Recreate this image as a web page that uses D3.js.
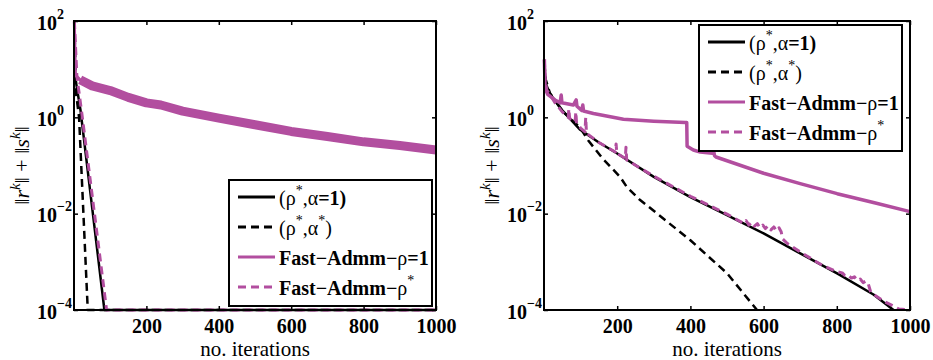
<!DOCTYPE html>
<html>
<head>
<meta charset="utf-8">
<script src="https://cdn.jsdelivr.net/npm/d3@7"></script>
</head>
<body style="margin:0">
<svg id="chart" width="933" height="360"></svg>
<script>
// tick values
let xTicks = [200, 400, 600, 800, 1000];
let yTicks = [1e2, 1e0, 1e-2, 1e-4];
let yExps = ["2", "0", "\u22122", "\u22124"];

// left panel series: [iteration, value]
let leftRhoAlpha1 = [[1, 50], [3, 7], [18, 1.4], [84, 1e-4], [1000, 1e-4]];
let leftRhoAlphaStar = [[1, 90], [6, 3], [14, 1.0], [38, 1e-4], [1000, 1e-4]];
let leftFastRho1 = [[1, 95], [4, 7.5], [17, 6], [50, 4.5], [100, 3.6], [150, 2.6], [200, 2.0],
  [240, 1.8], [300, 1.35], [400, 0.96], [500, 0.7], [600, 0.51], [700, 0.4], [800, 0.31],
  [900, 0.26], [1000, 0.21]];
let leftFastRhoStar = [[1, 100], [8, 7], [22, 1.15], [90, 1e-4], [1000, 1e-4]];

// right panel series
let rightRhoAlpha1 = [[1, 11], [5, 5], [16, 3.1], [50, 1.4], [99, 0.55], [150, 0.3], [199, 0.18],
  [300, 0.058], [400, 0.022], [500, 0.0093], [600, 0.0039], [700, 0.0015], [802, 5.7e-4],
  [900, 2.1e-4], [955, 1e-4]];
let rightRhoAlphaStar = [[1, 13], [5, 6], [16, 3.2], [50, 1.35], [98, 0.62], [121, 0.33],
  [160, 0.14], [208, 0.058], [226, 0.036], [260, 0.02], [308, 0.0102], [400, 0.0028],
  [500, 5.8e-4], [582, 1e-4]];
let rightFastRho1 = [[1, 16], [3, 4], [10, 3.0], [30, 2.3], [44, 2.0], [47, 2.9], [49, 2.0],
  [80, 1.8], [88, 2.3], [90, 1.7], [103, 1.4], [106, 1.8], [108, 1.35], [135, 1.2], [217, 0.91],
  [300, 0.83], [386, 0.78], [390, 0.78], [391, 0.25], [408, 0.21], [427, 0.19], [460, 0.18],
  [463, 0.21], [466, 0.16], [470, 0.15], [600, 0.069], [700, 0.042], [801, 0.026], [900, 0.017],
  [1000, 0.011]];
let rightFastRhoStar = [[1, 16], [3, 6], [8, 3.6], [16, 3.0], [30, 2.0], [50, 1.3], [66, 1.0],
  [68, 1.5], [70, 0.95], [85, 0.8], [87, 1.3], [89, 0.75], [100, 0.6], [112, 0.5], [114, 1.0],
  [116, 0.47], [150, 0.3], [195, 0.19], [197, 0.28], [199, 0.18], [222, 0.14], [224, 0.24],
  [226, 0.13], [300, 0.06], [400, 0.023], [500, 0.0098], [545, 0.0063], [552, 0.0072],
  [560, 0.0058], [568, 0.0066], [575, 0.0055], [583, 0.0062], [590, 0.0051], [598, 0.0058],
  [605, 0.0049], [612, 0.0056], [620, 0.0046], [628, 0.0053], [635, 0.0044], [642, 0.0051],
  [648, 0.0042], [652, 0.003], [665, 0.0024], [700, 0.0016], [760, 8.5e-4], [801, 6.2e-4],
  [815, 5.9e-4], [822, 5.2e-4], [830, 5.4e-4], [840, 4.6e-4], [848, 4.9e-4], [856, 4.1e-4],
  [864, 4.4e-4], [872, 3.7e-4], [880, 4.0e-4], [886, 3.5e-4], [893, 2.3e-4], [930, 1.5e-4],
  [970, 1.05e-4], [1000, 1e-4]];

let legendLabels = ["rho1", "rho2", "fast1", "fast2"];

let magenta = "#b24e9f";

let svg = d3.select("#chart");

// every text gets the serif face through this helper
function serifText(sel, size, weight) {
  return sel.style("font-family", "'Times New Roman'")
    .style("font-size", size + "px")
    .style("font-weight", weight || "normal");
}

function drawPanel(left, right, series, legendPos, id) {
  let top = 21, bottom = 310;
  let x = d3.scaleLinear().domain([0, 1000]).range([left, right]);
  let y = d3.scaleLog().domain([1e-4, 1e2]).range([bottom, top]);

  let g = svg.append("g");

  g.append("clipPath").attr("id", "clip" + id)
    .append("rect")
    .attr("x", left - 2).attr("y", top - 2)
    .attr("width", right - left + 4).attr("height", bottom - top + 4);

  let line = d3.line().x(d => x(d[0])).y(d => y(d[1]));
  let plot = g.append("g").attr("clip-path", "url(#clip" + id + ")");

  series.forEach(s => {
    plot.append("path")
      .attr("d", line(s.data))
      .attr("fill", "none")
      .attr("stroke", s.color)
      .attr("stroke-width", s.width)
      .attr("stroke-dasharray", s.dash ? "8,5" : null)
      .attr("stroke-linejoin", "round");
    if (s.band) {
      plot.append("path")
        .attr("d", line(s.data.slice(s.band)))
        .attr("fill", "none")
        .attr("stroke", s.color)
        .attr("stroke-width", 9)
        .attr("stroke-linejoin", "round");
    }
  });

  // axes, ticks pointing inwards
  let xb = g.append("g")
    .attr("transform", "translate(0," + bottom + ")")
    .call(d3.axisBottom(x).tickValues(xTicks).tickSize(-4).tickPadding(8).tickFormat(d3.format("d")));
  serifText(xb.selectAll("text"), 20, "bold").attr("fill", "#000").attr("dy", 15);

  g.append("g")
    .attr("transform", "translate(0," + top + ")")
    .call(d3.axisTop(x).tickValues(xTicks).tickSize(-4).tickFormat(""));

  let yl = g.append("g")
    .attr("transform", "translate(" + left + ",0)")
    .call(d3.axisLeft(y).tickValues(yTicks).tickSize(-4).tickFormat(""));
  yl.selectAll(".tick text").each(function(d, i) {
    let t = serifText(d3.select(this), 20, "bold")
      .attr("x", -37).attr("dy", null).attr("y", 8)
      .attr("text-anchor", "start")
      .attr("fill", "#000");
    t.append("tspan").text("10");
    t.append("tspan").style("font-size", "14px").attr("dy", -11).text(yExps[i]);
  });

  g.append("g")
    .attr("transform", "translate(" + right + ",0)")
    .call(d3.axisRight(y).tickValues(yTicks).tickSize(-4).tickFormat(""));

  g.selectAll(".domain").remove();
  g.selectAll(".tick line").attr("stroke", "#000").attr("stroke-width", 1.5);

  g.append("rect")
    .attr("x", left).attr("y", top)
    .attr("width", right - left).attr("height", bottom - top)
    .attr("fill", "none").attr("stroke", "#000").attr("stroke-width", 2);

  // axis titles
  serifText(g.append("text"), 21)
    .attr("x", (left + right) / 2).attr("y", 356)
    .attr("text-anchor", "middle")
    .text("no.  iterations");

  let yt = serifText(g.append("text"), 22)
    .attr("transform", "translate(" + (left - 45) + "," + ((top + bottom) / 2) + ") rotate(-90)")
    .attr("text-anchor", "middle");
  yt.append("tspan").text("\u2016");
  yt.append("tspan").style("font-style", "italic").text("r");
  yt.append("tspan").style("font-style", "italic").style("font-size", "15px").attr("dy", -9).text("k");
  yt.append("tspan").attr("dy", 9).text("\u2016 + \u2016");
  yt.append("tspan").style("font-style", "italic").text("s");
  yt.append("tspan").style("font-style", "italic").style("font-size", "15px").attr("dy", -9).text("k");
  yt.append("tspan").attr("dy", 9).text("\u2016");

  // legend
  let lg = g.append("g").attr("transform", "translate(" + legendPos[0] + "," + legendPos[1] + ")");
  lg.append("rect")
    .attr("width", 203).attr("height", 126)
    .attr("fill", "#fff").attr("stroke", "#000").attr("stroke-width", 2);
  let rowY = d3.scalePoint().domain(legendLabels).range([17, 107]);
  series.forEach((s, i) => {
    let ry = rowY(legendLabels[i]);
    lg.append("line")
      .attr("x1", 9).attr("x2", 46).attr("y1", ry).attr("y2", ry)
      .attr("stroke", s.color).attr("stroke-width", 3)
      .attr("stroke-dasharray", s.dash ? "8,5" : null);
    let t = serifText(lg.append("text"), 20, "bold")
      .attr("x", 50).attr("y", ry + 8);
    s.label.forEach(p => {
      let ts = t.append("tspan").text(p[0]);
      if (p[1] === "n") ts.style("font-weight", "normal");
      if (p[1] === "sup") ts.style("font-weight", "normal").style("font-size", "14px").attr("dy", -10);
      if (p[1] === "down") ts.style("font-weight", "normal").attr("dy", 10);
    });
  });
}

let labels = [
  [["(\u03c1", "n"], ["*", "sup"], [",\u03b1", "down"], ["=1)", "b"]],
  [["(\u03c1", "n"], ["*", "sup"], [",\u03b1", "down"], ["*", "sup"], [")", "down"]],
  [["Fast\u2212Admm\u2212", "b"], ["\u03c1", "n"], ["=1", "b"]],
  [["Fast\u2212Admm\u2212", "b"], ["\u03c1", "n"], ["*", "sup"]]
];

drawPanel(74, 436, [
  {data: leftRhoAlpha1, color: "#000", width: 2.5, dash: false, label: labels[0]},
  {data: leftRhoAlphaStar, color: "#000", width: 2.5, dash: true, label: labels[1]},
  {data: leftFastRho1, color: magenta, width: 3, dash: false, band: 2, label: labels[2]},
  {data: leftFastRhoStar, color: magenta, width: 3, dash: true, label: labels[3]}
], [229, 180], "L");

drawPanel(544, 910, [
  {data: rightRhoAlpha1, color: "#000", width: 2.5, dash: false, label: labels[0]},
  {data: rightRhoAlphaStar, color: "#000", width: 2.5, dash: true, label: labels[1]},
  {data: rightFastRho1, color: magenta, width: 3.5, dash: false, label: labels[2]},
  {data: rightFastRhoStar, color: magenta, width: 3, dash: true, label: labels[3]}
], [699, 25], "R");
</script>
</body>
</html>
